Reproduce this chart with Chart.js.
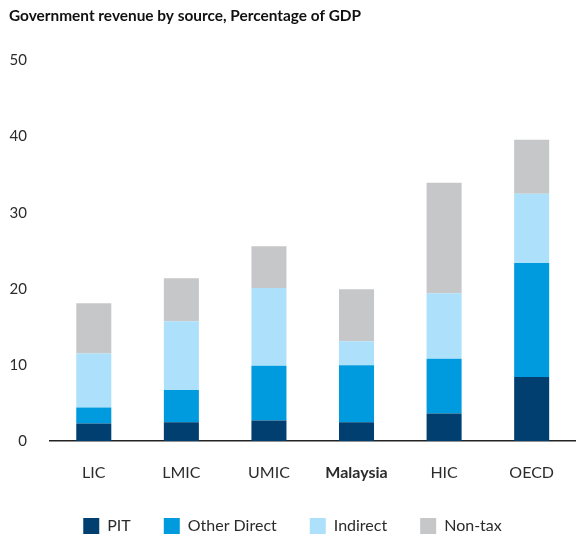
<!DOCTYPE html>
<html>
<head>
<meta charset="utf-8">
<script src="https://cdn.jsdelivr.net/npm/chart.js@4.4.1/dist/chart.umd.min.js"></script>
<style>
  html, body { margin: 0; padding: 0; background: #fff; }
  #wrap { width: 576px; height: 537px; position: relative; }
</style>
</head>
<body>
<div id="wrap"><canvas id="c"></canvas></div>
<script>
const categories = ["LIC", "LMIC", "UMIC", "Malaysia", "HIC", "OECD"];
const pit         = [2.3, 2.45, 2.7, 2.45, 3.6, 8.4];
const otherDirect = [2.1, 4.25, 7.2, 7.5, 7.2, 15.0];
const indirect    = [7.1, 9.05, 10.2, 3.15, 8.6, 9.1];
const nonTax      = [6.6, 5.65, 5.5, 6.85, 14.55, 7.1];
const yTicks      = [0, 10, 20, 30, 40, 50];

const FONT = "Lato, 'Noto Sans', sans-serif";
const TXT = "#2b2b2b";

const ds = (label, data, color) => ({
  label, data, backgroundColor: color, borderWidth: 0,
  barPercentage: 0.4, categoryPercentage: 1.0
});

new Chart(document.getElementById('c'), {
  type: 'bar',
  data: {
    labels: categories,
    datasets: [
      ds("PIT", pit, "#003f6f"),
      ds("Other Direct", otherDirect, "#009ade"),
      ds("Indirect", indirect, "#ade1fb"),
      ds("Non-tax", nonTax, "#c6c7c9")
    ]
  },
  options: {
    responsive: true,
    maintainAspectRatio: false,
    animation: false,
    layout: { padding: { left: 9, right: 0, top: 7, bottom: 0 } },
    plugins: {
      title: {
        display: true,
        text: "Government revenue by source, Percentage of GDP",
        align: 'start',
        color: '#111',
        font: { family: FONT, size: 15.4, weight: 'bold' },
        padding: { top: 0, bottom: 35 }
      },
      legend: {
        position: 'bottom',
        maxHeight: 52,
        labels: {
          color: TXT,
          font: { family: FONT, size: 16 },
          boxWidth: 16, boxHeight: 16,
          padding: 33
        }
      },
      tooltip: { enabled: false }
    },
    scales: {
      x: {
        stacked: true,
        afterFit: (s) => { s.height = 44; },
        grid: { display: false, drawTicks: false },
        border: { display: true, color: '#222', width: 1.5 },
        ticks: {
          color: TXT,
          padding: 22,
          font: (ctx) => ({ family: FONT, size: 16, weight: ctx.index === 3 ? 'bold' : 'normal' })
        }
      },
      y: {
        stacked: true,
        min: 0, max: 50,
        afterFit: (s) => { s.width = 41; },
        afterBuildTicks: (s) => { s.ticks = yTicks.map(v => ({ value: v })); },
        grid: { display: false, drawTicks: false },
        border: { display: false },
        ticks: {
          color: TXT,
          padding: 23,
          font: { family: FONT, size: 15 }
        }
      }
    }
  }
});
</script>
</body>
</html>
